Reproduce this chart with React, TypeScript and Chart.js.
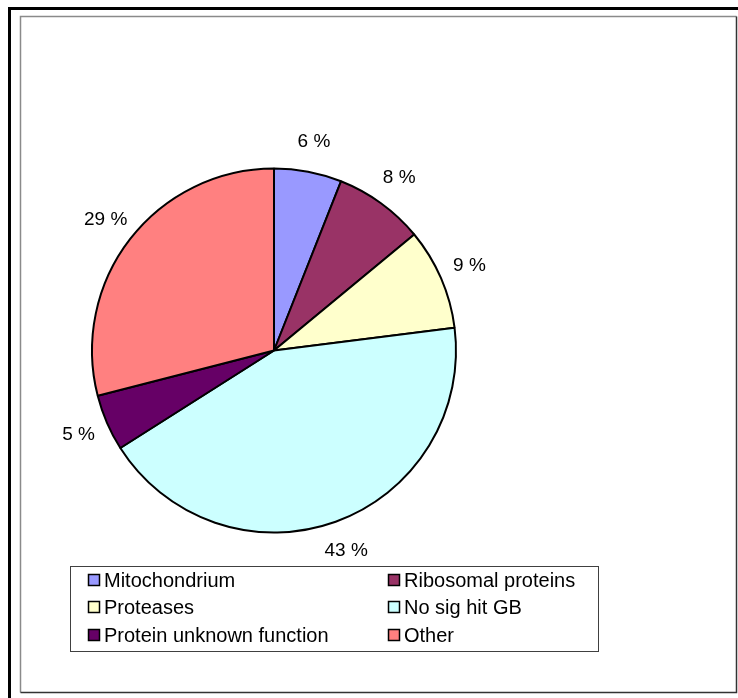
import { useEffect, useRef } from "react";
import { Chart, registerables } from "chart.js";

Chart.register(...registerables);

// Share of sequences per functional class (percent), clockwise from 12 o'clock
const categories = [
  "Mitochondrium",
  "Ribosomal proteins",
  "Proteases",
  "No sig hit GB",
  "Protein unknown function",
  "Other",
];
const shares = [6, 8, 9, 43, 5, 29];
const sliceColors = ["#9999FF", "#993366", "#FFFFCC", "#CCFFFF", "#660066", "#FF8080"];
const valueSuffix = " %";

const W = 738;
const H = 698;
const FONT = '"Liberation Sans", Arial, Helvetica, sans-serif';

// Page background, the black rule and the inset plot frame
const framePlugin = {
  id: "frame",
  beforeDraw(chart: any) {
    const ctx = chart.ctx as CanvasRenderingContext2D;
    ctx.save();
    ctx.fillStyle = "#ffffff";
    ctx.fillRect(0, 0, W, H);
    ctx.fillStyle = "#000000";
    ctx.fillRect(8, 7, W - 8, 3);
    ctx.fillRect(8, 7, 3, H - 7);
    ctx.lineWidth = 1.5;
    ctx.strokeStyle = "#8a8a8a";
    ctx.beginPath();
    ctx.moveTo(20.5, 692.5);
    ctx.lineTo(20.5, 16.5);
    ctx.lineTo(736.5, 16.5);
    ctx.stroke();
    ctx.strokeStyle = "#333333";
    ctx.beginPath();
    ctx.moveTo(736.5, 16.5);
    ctx.lineTo(736.5, 692.5);
    ctx.lineTo(20.5, 692.5);
    ctx.stroke();
    ctx.restore();
  },
};

// Percent labels placed just outside each slice, on its middle angle
const sliceLabelPlugin = {
  id: "sliceLabels",
  afterDatasetsDraw(chart: any) {
    const ctx = chart.ctx as CanvasRenderingContext2D;
    const meta = chart.getDatasetMeta(0);
    ctx.save();
    ctx.font = `19px ${FONT}`;
    ctx.fillStyle = "#000000";
    ctx.textAlign = "center";
    ctx.textBaseline = "middle";
    meta.data.forEach((arc: any, i: number) => {
      const { x, y, startAngle, endAngle, outerRadius } = arc.getProps(
        ["x", "y", "startAngle", "endAngle", "outerRadius"],
        true
      );
      const mid = (startAngle + endAngle) / 2;
      const r = outerRadius + 31;
      ctx.fillText(`${shares[i]}${valueSuffix}`, x + r * Math.cos(mid), y + r * Math.sin(mid));
    });
    ctx.restore();
  },
};

// Two-column boxed legend under the pie
const boxLegendPlugin = {
  id: "boxLegend",
  afterDraw(chart: any) {
    const ctx = chart.ctx as CanvasRenderingContext2D;
    const box = { x: 70.5, y: 566.5, w: 528, h: 85 };
    const colX = [88, 388];
    const rowY = [580, 607, 635];
    ctx.save();
    ctx.strokeStyle = "#404040";
    ctx.lineWidth = 1;
    ctx.strokeRect(box.x, box.y, box.w, box.h);
    ctx.font = `20px ${FONT}`;
    ctx.textBaseline = "middle";
    ctx.textAlign = "left";
    categories.forEach((name, i) => {
      const cx = colX[i % 2];
      const cy = rowY[Math.floor(i / 2)];
      ctx.fillStyle = sliceColors[i];
      ctx.fillRect(cx, cy - 6, 12, 12);
      ctx.strokeStyle = "#000000";
      ctx.lineWidth = 1.5;
      ctx.strokeRect(cx + 0.5, cy - 5.5, 11, 11);
      ctx.fillStyle = "#000000";
      ctx.fillText(name, cx + 16, cy + 1);
    });
    ctx.restore();
  },
};

export default function App() {
  const canvasRef = useRef<HTMLCanvasElement | null>(null);

  useEffect(() => {
    const canvas = canvasRef.current;
    if (!canvas) return;
    const chart = new Chart(canvas, {
      type: "pie",
      data: {
        labels: categories,
        datasets: [
          {
            data: shares,
            backgroundColor: sliceColors,
            borderColor: "#000000",
            borderWidth: 2,
            hoverBorderWidth: 2,
            hoverOffset: 0,
          },
        ],
      },
      options: {
        responsive: false,
        animation: false,
        events: [],
        layout: { padding: { left: 91, top: 167.5, right: 281, bottom: 164.5 } },
        plugins: {
          legend: { display: false },
          tooltip: { enabled: false },
        },
      },
      plugins: [framePlugin, sliceLabelPlugin, boxLegendPlugin],
    });
    return () => chart.destroy();
  }, []);

  return (
    <canvas
      ref={canvasRef}
      width={W}
      height={H}
      style={{ position: "fixed", left: 0, top: 0, width: W, height: H, display: "block" }}
    />
  );
}
